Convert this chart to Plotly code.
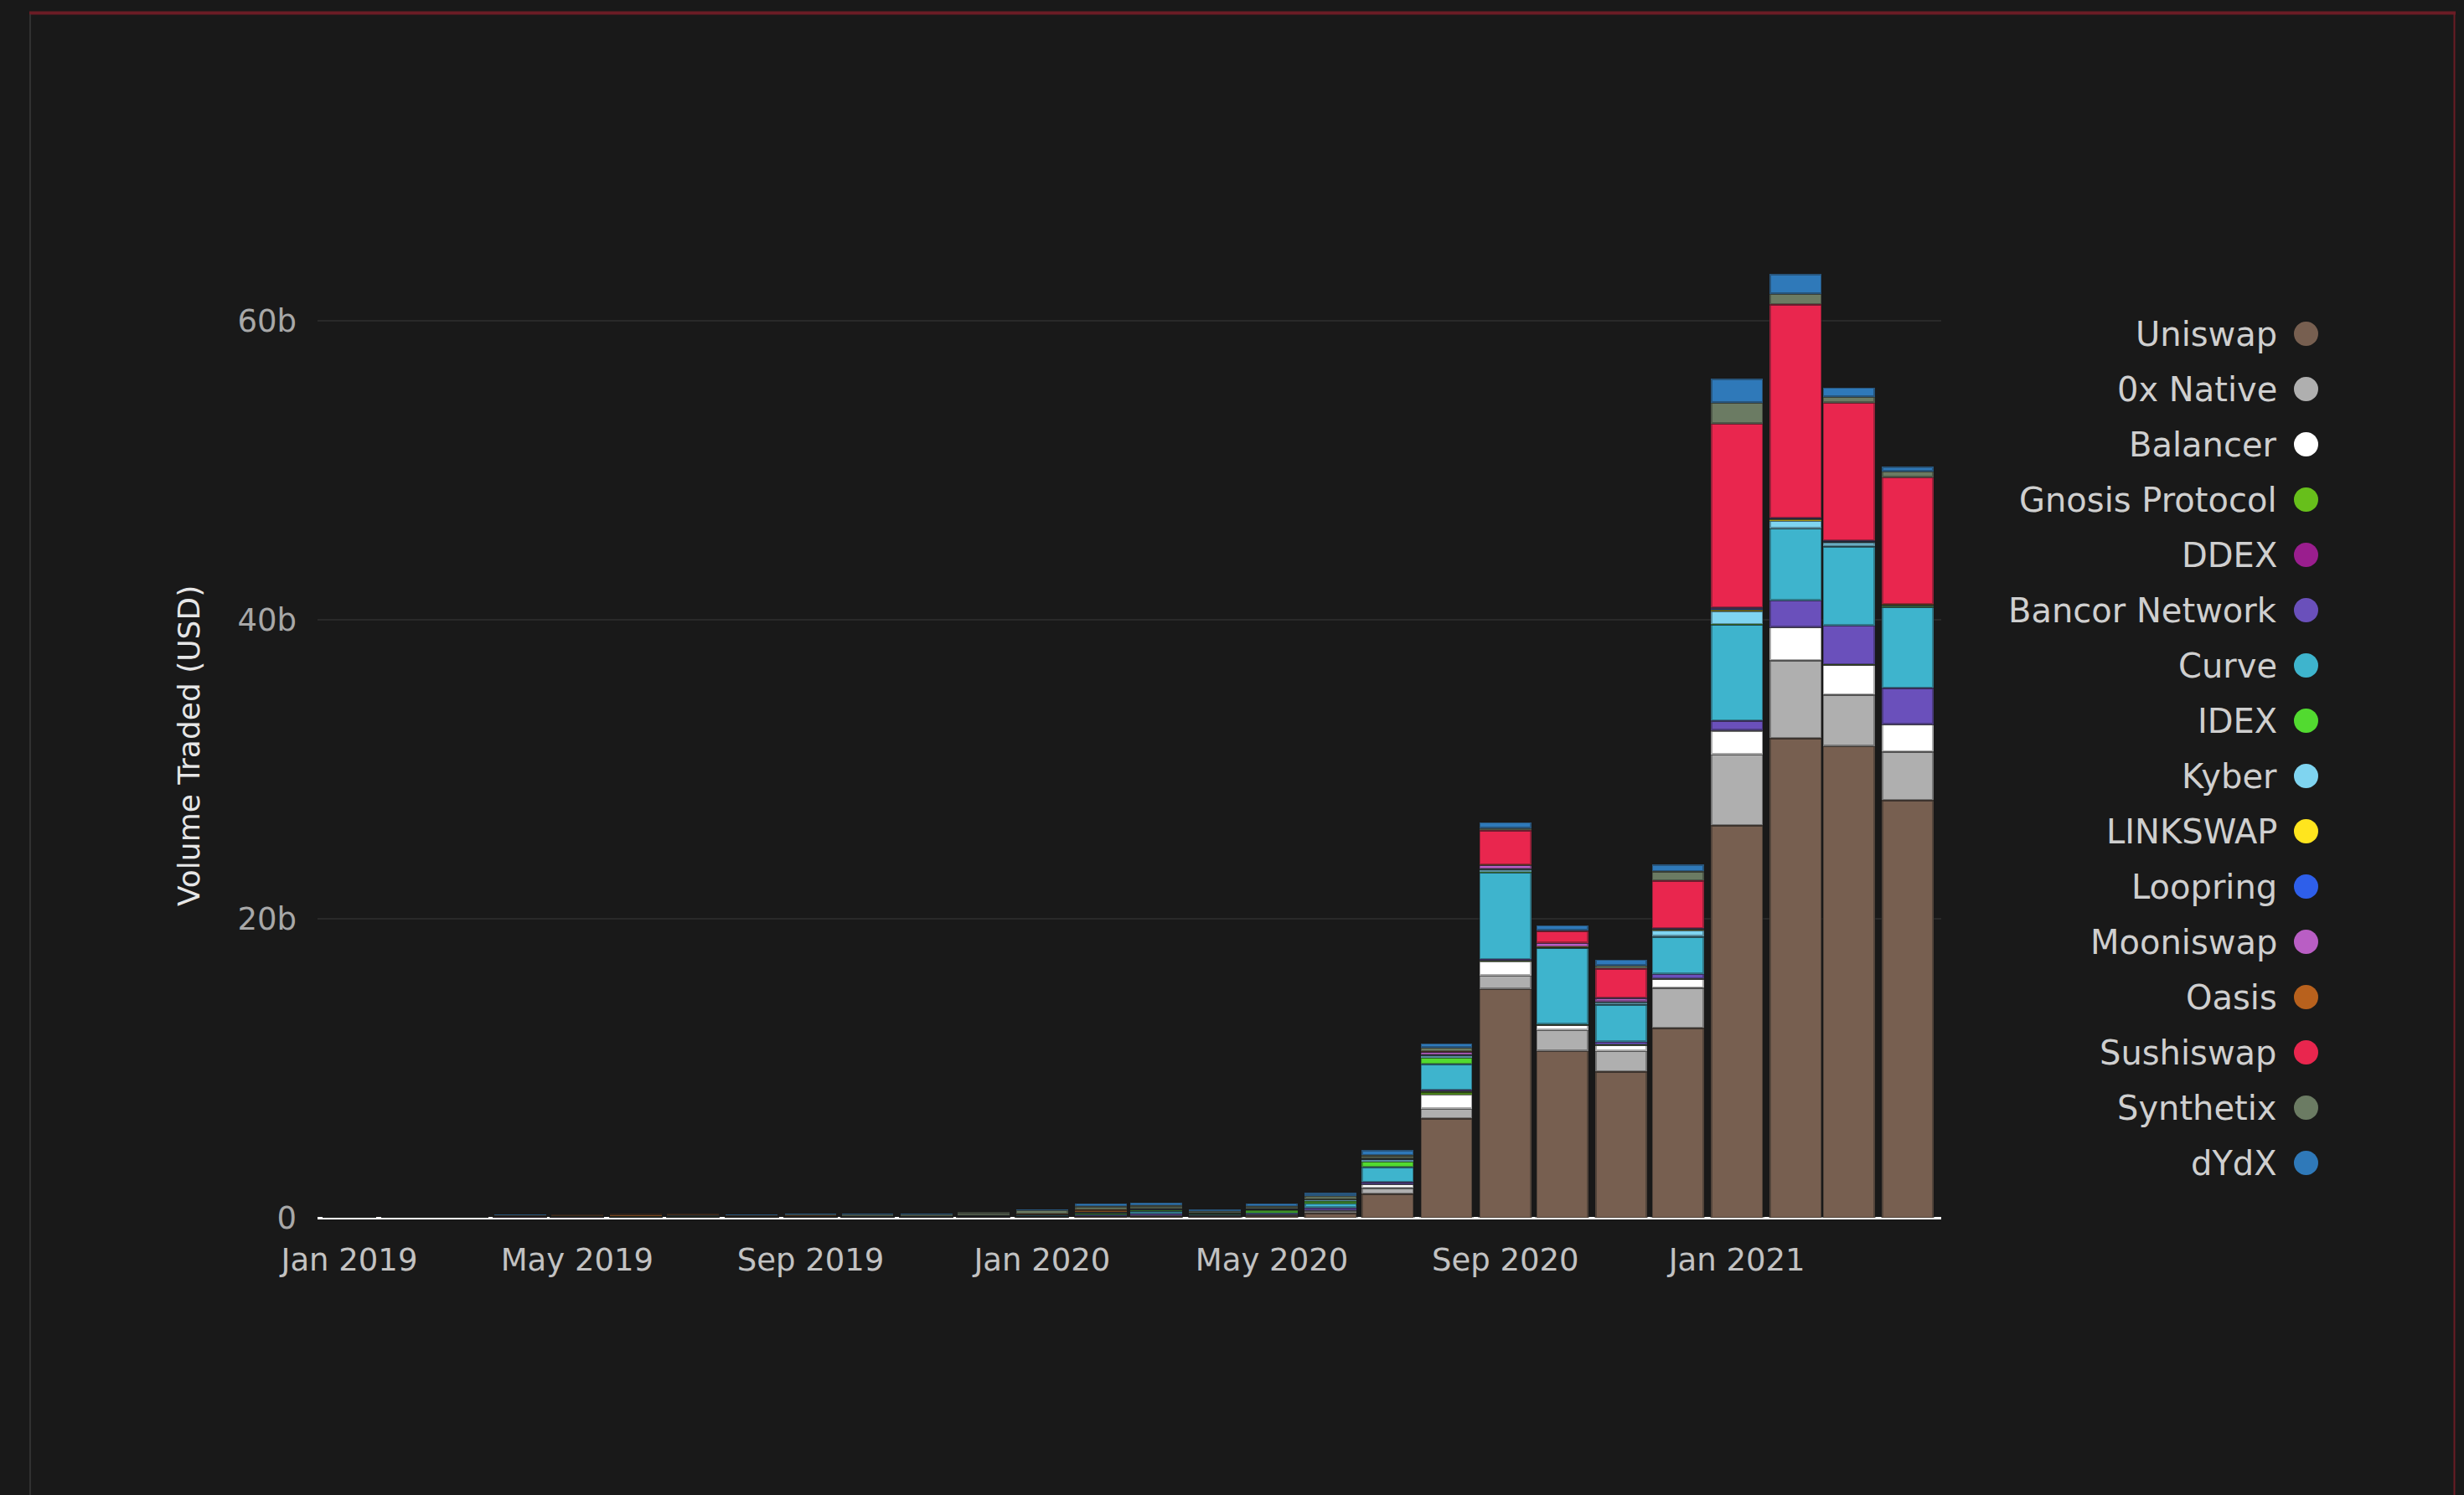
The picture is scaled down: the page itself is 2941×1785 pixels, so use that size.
import plotly.graph_objects as go

# ---------------- data (billions USD, monthly) ----------------
months = [
    "2019-01-01", "2019-02-01", "2019-03-01", "2019-04-01", "2019-05-01", "2019-06-01",
    "2019-07-01", "2019-08-01", "2019-09-01", "2019-10-01", "2019-11-01", "2019-12-01",
    "2020-01-01", "2020-02-01", "2020-03-01", "2020-04-01", "2020-05-01", "2020-06-01",
    "2020-07-01", "2020-08-01", "2020-09-01", "2020-10-01", "2020-11-01", "2020-12-01",
    "2021-01-01", "2021-02-01", "2021-03-01", "2021-04-01",
]

uniswap = [0.001, 0.002, 0.003, 0.005, 0.008, 0.01, 0.012, 0.012, 0.015, 0.02, 0.025, 0.03,
           0.05, 0.07, 0.08, 0.08, 0.12, 0.33, 1.6, 6.65, 15.3, 11.15, 9.8, 12.7,
           26.25, 32.1, 31.55, 27.95]
zerox_native = [0.01, 0.01, 0.01, 0.02, 0.02, 0.02, 0.02, 0.03, 0.02, 0.02, 0.02, 0.04,
                0.05, 0.06, 0.06, 0.06, 0.07, 0.14, 0.4, 0.65, 0.9, 1.4, 1.35, 2.7,
                4.75, 5.2, 3.45, 3.25]
balancer = [0, 0, 0, 0, 0, 0, 0, 0, 0, 0, 0, 0,
            0, 0, 0.01, 0.02, 0.03, 0.05, 0.25, 0.95, 0.95, 0.35, 0.4, 0.6,
            1.6, 2.2, 2.0, 1.8]
gnosis_protocol = [0, 0, 0, 0, 0, 0, 0, 0, 0, 0, 0, 0,
                   0, 0, 0, 0, 0, 0, 0, 0.2, 0.05, 0.02, 0.02, 0.02,
                   0.02, 0.01, 0.01, 0.01]
ddex = [0.01, 0.01, 0.01, 0.01, 0.01, 0.01, 0.01, 0.01, 0.005, 0.005, 0.005, 0.005,
        0.005, 0.005, 0.005, 0.005, 0.005, 0.005, 0.005, 0.005, 0, 0, 0, 0,
        0, 0, 0, 0]
bancor_network = [0.005, 0.005, 0.005, 0.01, 0.01, 0.01, 0.01, 0.02, 0.01, 0.01, 0.01, 0.02,
                  0.02, 0.03, 0.15, 0.02, 0.08, 0.15, 0.15, 0.1, 0.1, 0.03, 0.2, 0.3,
                  0.65, 1.8, 2.6, 2.45]
curve = [0, 0, 0, 0, 0, 0, 0, 0, 0, 0, 0, 0,
         0.02, 0.08, 0.15, 0.06, 0.05, 0.3, 1.0, 1.75, 5.8, 5.1, 2.5, 2.5,
         6.4, 4.8, 5.3, 5.4]
idex = [0.01, 0.01, 0.01, 0.06, 0.05, 0.07, 0.07, 0.02, 0.05, 0.02, 0.02, 0.02,
        0.02, 0.03, 0.03, 0.03, 0.18, 0.13, 0.35, 0.4, 0.05, 0.02, 0.02, 0.02,
        0.05, 0.02, 0.04, 0.03]
kyber = [0.005, 0.005, 0.005, 0.02, 0.02, 0.02, 0.02, 0.03, 0.02, 0.03, 0.03, 0.04,
         0.08, 0.1, 0.12, 0.06, 0.05, 0.13, 0.2, 0.2, 0.2, 0.05, 0.15, 0.4,
         0.85, 0.5, 0.25, 0.08]
linkswap = [0, 0, 0, 0, 0, 0, 0, 0, 0, 0, 0, 0,
            0, 0, 0, 0, 0, 0, 0, 0, 0, 0.01, 0.02, 0.05,
            0.1, 0.1, 0.03, 0.02]
loopring = [0, 0, 0, 0, 0, 0, 0, 0, 0, 0, 0, 0,
            0.005, 0.005, 0.005, 0.005, 0.005, 0.005, 0.01, 0.01, 0.01, 0.01, 0.01, 0.02,
            0.05, 0.03, 0.03, 0.02]
mooniswap = [0, 0, 0, 0, 0, 0, 0, 0, 0, 0, 0, 0,
             0, 0, 0, 0, 0, 0, 0, 0.2, 0.25, 0.25, 0.25, 0.05,
             0.1, 0.05, 0.05, 0.02]
oasis = [0.005, 0.005, 0.005, 0.03, 0.1, 0.13, 0.13, 0.02, 0.03, 0.02, 0.02, 0.03,
         0.03, 0.18, 0.03, 0.02, 0.02, 0.02, 0.02, 0.01, 0.01, 0.01, 0.01, 0.01,
         0.01, 0.01, 0.01, 0.01]
sushiswap = [0, 0, 0, 0, 0, 0, 0, 0, 0, 0, 0, 0,
             0, 0, 0, 0, 0, 0, 0, 0, 2.3, 0.8, 1.95, 3.2,
             12.3, 14.3, 9.2, 8.5]
synthetix = [0.002, 0.002, 0.002, 0.01, 0.01, 0.01, 0.01, 0.03, 0.1, 0.12, 0.12, 0.18,
             0.25, 0.2, 0.18, 0.1, 0.15, 0.2, 0.2, 0.25, 0.15, 0.03, 0.2, 0.6,
             1.4, 0.7, 0.4, 0.4]
dydx = [0.005, 0.005, 0.005, 0.05, 0.01, 0.01, 0.01, 0.08, 0.01, 0.01, 0.02, 0.03,
        0.05, 0.2, 0.2, 0.12, 0.2, 0.2, 0.35, 0.3, 0.4, 0.35, 0.4, 0.45,
        1.6, 1.3, 0.6, 0.3]

series_names = ["Uniswap", "0x Native", "Balancer", "Gnosis Protocol", "DDEX",
                "Bancor Network", "Curve", "IDEX", "Kyber", "LINKSWAP", "Loopring",
                "Mooniswap", "Oasis", "Sushiswap", "Synthetix", "dYdX"]
series_values = [uniswap, zerox_native, balancer, gnosis_protocol, ddex,
                 bancor_network, curve, idex, kyber, linkswap, loopring,
                 mooniswap, oasis, sushiswap, synthetix, dydx]
series_colors = ["#775F50", "#AFAFAF", "#FFFFFF", "#67BF1B", "#9A1E8E",
                 "#6A50BB", "#3EB4CD", "#52DA30", "#7FD4F0", "#FFE51E", "#2E5FEA",
                 "#B95EC4", "#B8611D", "#E9264E", "#6B7B63", "#2F79B9"]

y_tick_vals = [0, 20, 40, 60]
y_tick_text = ["0", "20b", "40b", "60b"]
y_title = "Volume Traded (USD)"

# ---------------- layout geometry ----------------
W, H = 2941, 1785
PX_L, PX_R, PY_T, PY_B = 379, 2317, 258, 1454
PX_PER_B = 17.85
FONT = "DejaVu Sans"
BG = "#191919"


def px(x):
    return (x - PX_L) / (PX_R - PX_L)


def py(y):
    return (PY_B - y) / (PY_B - PY_T)


fig = go.Figure()
DAY_MS = 24 * 3600 * 1000
for name, vals, col in zip(series_names, series_values, series_colors):
    fig.add_trace(go.Bar(
        x=months, y=vals, name=name,
        marker=dict(color=col, line=dict(color="rgba(25,25,25,0.38)", width=3)),
        width=27.3 * DAY_MS,
        showlegend=False,
    ))

shapes = []
annotations = []

# manual legend (text on the left, dot on the right)
for i, (name, col) in enumerate(zip(series_names, series_colors)):
    yc = 398.6 + 66.0 * i
    annotations.append(dict(
        x=px(2720), y=py(yc), xref="paper", yref="paper",
        xanchor="right", yanchor="middle", showarrow=False,
        text=name, font=dict(family=FONT, size=40, color="#cfcfcf"),
    ))
    shapes.append(dict(
        type="circle", xref="paper", yref="paper",
        xsizemode="pixel", ysizemode="pixel",
        xanchor=px(2752.5), yanchor=py(yc),
        x0=-14.5, x1=14.5, y0=-14.5, y1=14.5,
        fillcolor=col, line=dict(width=0),
    ))

# y axis title
annotations.append(dict(
    x=px(226), y=py(891), xref="paper", yref="paper",
    xanchor="center", yanchor="middle", showarrow=False, textangle=-90,
    text=y_title, font=dict(family=FONT, size=36, color="#e6e6e6"),
))

# card border
BORDER_RED = "#6b1c25"
shapes.append(dict(type="line", xref="paper", yref="paper",
                   x0=px(35), x1=px(2931), y0=py(15.5), y1=py(15.5),
                   line=dict(color=BORDER_RED, width=4)))
shapes.append(dict(type="line", xref="paper", yref="paper",
                   x0=px(36), x1=px(36), y0=py(17), y1=py(1800),
                   line=dict(color="#3a3a3a", width=1.5)))
shapes.append(dict(type="line", xref="paper", yref="paper",
                   x0=px(2929.5), x1=px(2929.5), y0=py(17), y1=py(1800),
                   line=dict(color=BORDER_RED, width=2)))

fig.update_layout(
    width=W, height=H,
    margin=dict(l=PX_L, r=W - PX_R, t=PY_T, b=H - PY_B, autoexpand=False),
    paper_bgcolor=BG, plot_bgcolor=BG,
    barmode="stack",
    showlegend=False,
    font=dict(family=FONT, color="#bdbdbd"),
    shapes=shapes,
    annotations=annotations,
    xaxis=dict(
        type="date",
        range=["2018-12-15 06:00", "2021-04-18 15:00"],
        tick0="2019-01-01", dtick="M4", tickformat="%b %Y",
        showgrid=False, zeroline=False, showline=False, ticks="",
        ticklabelstandoff=25,
        tickfont=dict(family=FONT, size=37, color="#c2c2c2"),
    ),
    yaxis=dict(
        range=[0, (PY_B - PY_T) / PX_PER_B],
        tickvals=y_tick_vals, ticktext=y_tick_text,
        showgrid=True, gridcolor="#292929", gridwidth=2,
        zeroline=True, zerolinecolor="#ffffff", zerolinewidth=2.5,
        showline=False, ticks="",
        ticklabelstandoff=24,
        tickfont=dict(family=FONT, size=37, color="#a8a8a8"),
    ),
)

fig.write_html("out.html")
